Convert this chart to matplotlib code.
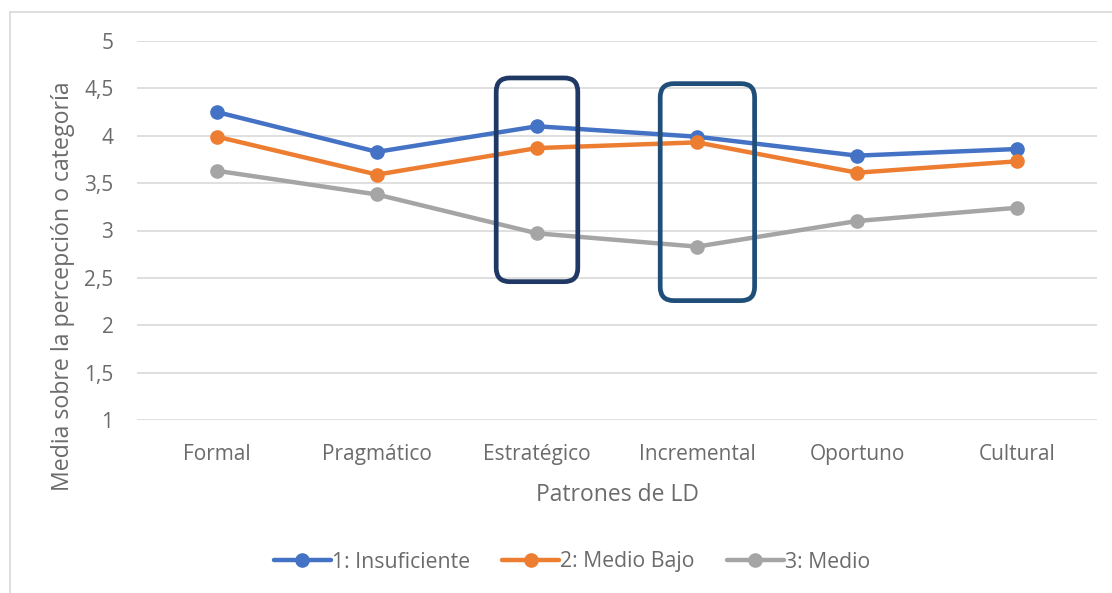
import matplotlib
matplotlib.use("Agg")
import matplotlib.pyplot as plt
from matplotlib.patches import FancyBboxPatch
from matplotlib.lines import Line2D
import numpy as np

categorias = ["Formal", "Pragmático", "Estratégico", "Incremental", "Oportuno", "Cultural"]
insuficiente = [4.25, 3.83, 4.10, 3.99, 3.79, 3.86]
medio_bajo = [3.99, 3.59, 3.87, 3.93, 3.61, 3.73]
medio = [3.63, 3.38, 2.97, 2.83, 3.10, 3.24]
series_nombres = ["1: Insuficiente", "2: Medio Bajo", "3: Medio"]
yticks = [1, 1.5, 2, 2.5, 3, 3.5, 4, 4.5, 5]
ytick_labels = ["1", "1,5", "2", "2,5", "3", "3,5", "4", "4,5", "5"]

colores = ["#4472C4", "#ED7D31", "#A5A5A5"]
gris_txt = "#6b6b6b"

plt.rcParams["font.family"] = ["Open Sans", "DejaVu Sans"]

fig = plt.figure(figsize=(11.12, 5.93), dpi=100)
ax = fig.add_axes([137 / 1112, 1 - 420 / 593, 960 / 1112, 379 / 593])

x = np.arange(len(categorias))
for vals, nombre, c in zip([insuficiente, medio_bajo, medio], series_nombres, colores):
    ax.plot(x, vals, color=c, lw=3.2, marker="o", ms=9.5, label=nombre,
            solid_capstyle="round", zorder=3)

# recuadros resaltados (x0, y0, ancho, alto en unidades de datos)
recuadros = [((1.745, 2.46, 0.51, 2.15), "#203864"),
             ((2.77, 2.26, 0.59, 2.29), "#1F4E79")]
for (x0, y0, w, h), c in recuadros:
    ax.add_patch(FancyBboxPatch((x0, y0), w, h,
                                boxstyle="round,pad=0,rounding_size=0.085",
                                mutation_aspect=1.7, fill=False, ec=c, lw=3.4, zorder=4))

ax.set_xlim(-0.5, len(categorias) - 0.5)
ax.set_ylim(1, 5)
ax.set_yticks(yticks)
ax.set_yticklabels(ytick_labels)
ax.set_xticks(x)
ax.set_xticklabels(categorias)
ax.tick_params(axis="both", length=0, labelsize=15, labelcolor=gris_txt)
ax.tick_params(axis="y", pad=17)
ax.tick_params(axis="x", pad=17)
ax.grid(axis="y", color="#D9D9D9", lw=1.2)
ax.set_axisbelow(True)
for s in ax.spines.values():
    s.set_visible(False)

ax.set_xlabel("Patrones de LD", fontsize=16.5, color=gris_txt, labelpad=13)
ax.set_ylabel("Media sobre la percepción o categoría", fontsize=16.7, color=gris_txt)
ax.yaxis.set_label_coords(-0.065, 0.354)

leg = fig.legend(loc="center", bbox_to_anchor=(572 / 1112, 1 - 562 / 593), ncol=3,
                 frameon=False, fontsize=15.3, handlelength=2.7, handletextpad=0.05,
                 columnspacing=1.5)
for t in leg.get_texts():
    t.set_color(gris_txt)

# marco del gráfico
fig.add_artist(Line2D([10 / 1112, 1], [1 - 12 / 593, 1 - 12 / 593], color="#D9D9D9", lw=1.2))
fig.add_artist(Line2D([10 / 1112, 10 / 1112], [0, 1 - 12 / 593], color="#D9D9D9", lw=1.2))

fig.savefig("out.png", dpi=100)
